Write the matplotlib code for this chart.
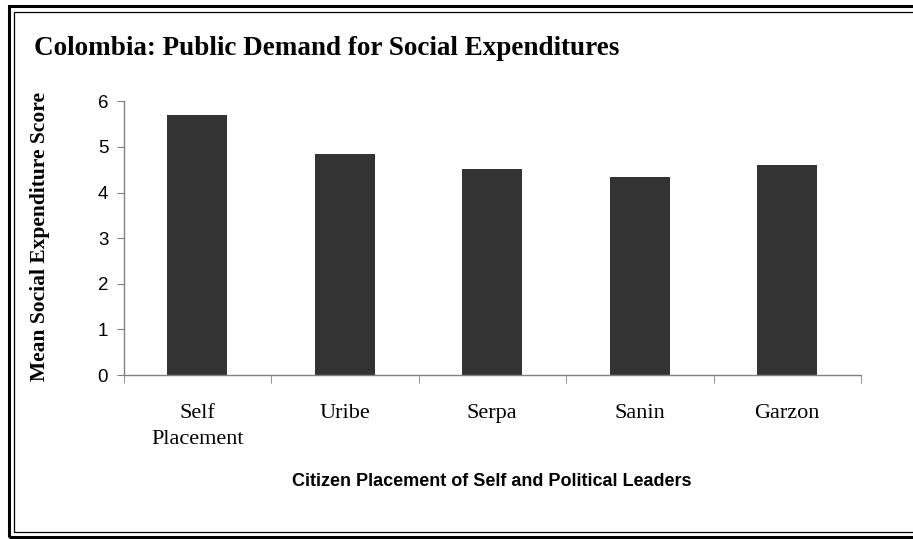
import matplotlib
matplotlib.use("Agg")
import matplotlib.pyplot as plt
from matplotlib.patches import Rectangle
from matplotlib.ticker import FixedLocator

categories = ["Self\nPlacement", "Uribe", "Serpa", "Sanin", "Garzon"]
values = [5.69, 4.85, 4.52, 4.33, 4.61]
yticks = [0, 1, 2, 3, 4, 5, 6]

W, H = 913, 539
fig = plt.figure(figsize=(W / 100, H / 100), dpi=100)
fig.patch.set_facecolor("white")

# double frame
fig.add_artist(Rectangle((8.5 / W, 1 - 537 / H), (920 - 8.5) / W, (537 - 5.5) / H,
                         transform=fig.transFigure, fill=False, edgecolor="black", linewidth=2.2))
fig.add_artist(Rectangle((14 / W, 1 - 531.5 / H), (920 - 14) / W, (531.5 - 11.5) / H,
                         transform=fig.transFigure, fill=False, edgecolor="black", linewidth=0.9))

ax = fig.add_axes([123.5 / W, 1 - 375 / H, (861 - 123.5) / W, (375 - 101.3) / H])
x = list(range(len(categories)))
ax.bar(x, values, width=0.41, color="#333333", edgecolor="none", zorder=2)

ax.set_xlim(-0.5, len(categories) - 0.5)
ax.set_ylim(0, 6)
ax.set_yticks(yticks)
ax.set_yticklabels([str(t) for t in yticks], family="Liberation Sans", fontsize=13.5)

ax.set_xticks(x)
labels = ax.set_xticklabels(categories, family="Liberation Serif", fontsize=16, va="top")
for lab in labels:
    lab.set_linespacing(1.5)
ax.xaxis.set_minor_locator(FixedLocator([i - 0.5 for i in range(len(categories) + 1)]))
ax.tick_params(axis="x", which="major", length=0, pad=21)
ax.tick_params(axis="x", which="minor", length=6, color="#808080", direction="out")
ax.tick_params(axis="y", length=5, color="#808080", direction="out", pad=6)

for s in ["top", "right"]:
    ax.spines[s].set_visible(False)
for s in ["left", "bottom"]:
    ax.spines[s].set_color("#808080")
    ax.spines[s].set_linewidth(1.0)

fig.text(34 / W, 1 - 55 / H, "Colombia: Public Demand for Social Expenditures",
         family="Liberation Serif", fontweight="bold", fontsize=19.5, va="baseline", ha="left")
fig.text(40 / W, 1 - 236 / H, "Mean Social Expenditure Score", rotation=90,
         family="Liberation Serif", fontweight="bold", fontsize=15.5, va="center", ha="center")
fig.text(492 / W, 1 - 482 / H, "Citizen Placement of Self and Political Leaders",
         family="Liberation Sans", fontweight="bold", fontsize=13, va="center", ha="center")

fig.savefig("out.png", dpi=100)
